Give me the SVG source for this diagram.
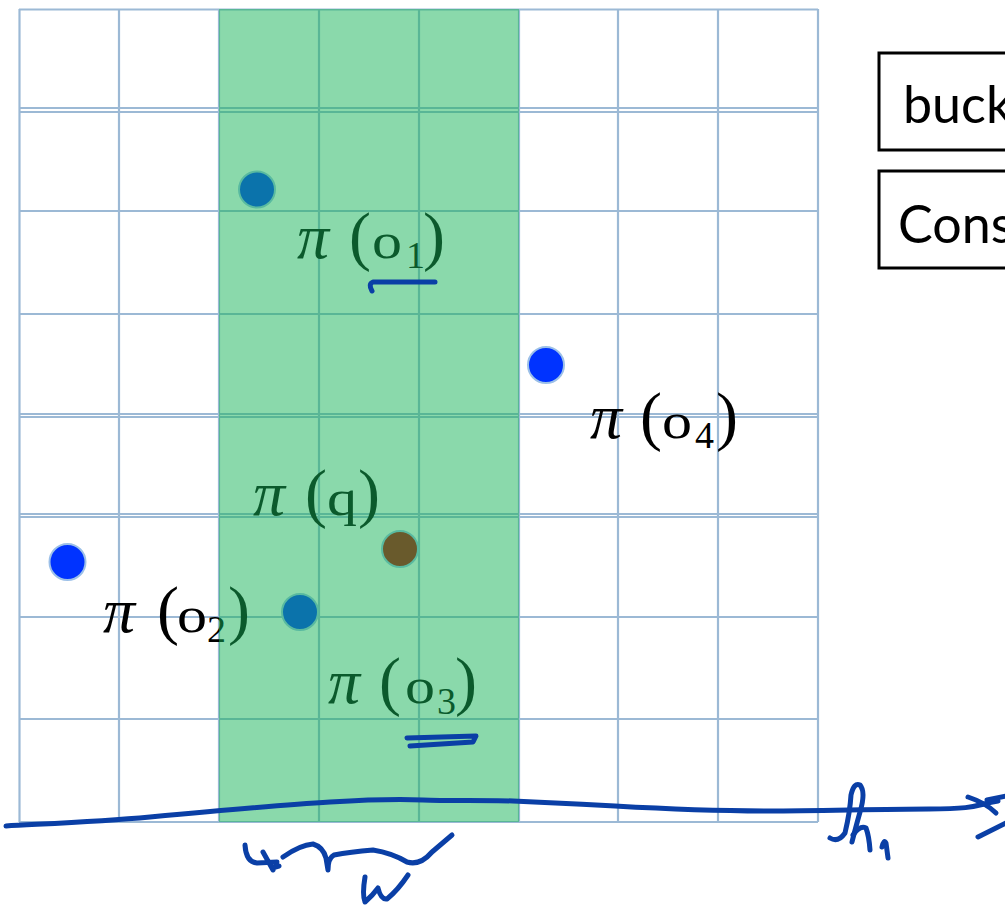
<svg xmlns="http://www.w3.org/2000/svg" width="1005" height="907" viewBox="0 0 1005 907">
<defs>
<style>
.grid line{stroke:#9cb9d5;stroke-width:2.2}
.dot{stroke:#9cc0e8;stroke-width:2}
.lbl{font-family:"Liberation Serif","Times New Roman",serif;fill:#000}
.pi{font-style:italic;font-size:64px}
.par{font-size:66px}
.var{font-size:50px}
.sub{font-size:38px}
.box rect{fill:#fff;stroke:#000;stroke-width:3}
.box text{font-family:Lato,"Noto Sans",sans-serif;font-size:52px;fill:#000}
.ink{fill:none;stroke:#0a3fa6;stroke-width:5;stroke-linecap:round;stroke-linejoin:round}
</style>
</defs>
<rect width="1005" height="907" fill="#fff"/>
<g id="grid" class="grid">
<line x1="19.5" y1="9" x2="19.5" y2="822"/>
<line x1="119" y1="9" x2="119" y2="822"/>
<line x1="219" y1="9" x2="219" y2="822"/>
<line x1="319" y1="9" x2="319" y2="822"/>
<line x1="419" y1="9" x2="419" y2="822"/>
<line x1="519" y1="9" x2="519" y2="822"/>
<line x1="618" y1="9" x2="618" y2="822"/>
<line x1="718" y1="9" x2="718" y2="822"/>
<line x1="818" y1="9" x2="818" y2="822"/>
<line x1="19" y1="9.5" x2="818" y2="9.5"/>
<line x1="19" y1="108" x2="818" y2="108"/>
<line x1="19" y1="112" x2="818" y2="112"/>
<line x1="19" y1="211" x2="818" y2="211"/>
<line x1="19" y1="314" x2="818" y2="314"/>
<line x1="19" y1="414" x2="818" y2="414"/>
<line x1="19" y1="417" x2="818" y2="417"/>
<line x1="19" y1="514" x2="818" y2="514"/>
<line x1="19" y1="517" x2="818" y2="517"/>
<line x1="19" y1="617" x2="818" y2="617"/>
<line x1="19" y1="719" x2="818" y2="719"/>
<line x1="19" y1="822" x2="818" y2="822"/>
</g>
<g id="dot-o1"><circle class="dot" cx="257" cy="189.5" r="18" fill="#0033ff"/></g>
<g id="dot-o2"><circle class="dot" cx="67.5" cy="562" r="18" fill="#0033ff"/></g>
<g id="dot-o3"><circle class="dot" cx="300" cy="612" r="18" fill="#0033ff"/></g>
<g id="dot-o4"><circle class="dot" cx="546" cy="365" r="18" fill="#0033ff"/></g>
<g id="dot-q"><circle class="dot" cx="400" cy="549" r="18" fill="#bd0000"/></g>
<g id="label-o1" class="lbl">
<text class="pi" x="297" y="258">π</text>
<text class="par" x="349" y="258">(</text>
<text class="var" x="372" y="258" textLength="30" lengthAdjust="spacingAndGlyphs">o</text>
<text class="sub" x="406" y="268">1</text>
<text class="par" x="423" y="258">)</text>
</g>
<g id="label-o4" class="lbl">
<text class="pi" x="590" y="438">π</text>
<text class="par" x="640" y="438">(</text>
<text class="var" x="662" y="438" textLength="30" lengthAdjust="spacingAndGlyphs">o</text>
<text class="sub" x="695" y="448">4</text>
<text class="par" x="716" y="438">)</text>
</g>
<g id="label-o2" class="lbl">
<text class="pi" x="103" y="632">π</text>
<text class="par" x="157" y="632">(</text>
<text class="var" x="177" y="632" textLength="30" lengthAdjust="spacingAndGlyphs">o</text>
<text class="sub" x="207" y="642">2</text>
<text class="par" x="228" y="632">)</text>
</g>
<g id="label-q" class="lbl">
<text class="pi" x="253" y="515">π</text>
<text class="par" x="305" y="515">(</text>
<text class="var" x="327" y="515" textLength="30" lengthAdjust="spacingAndGlyphs">q</text>
<text class="par" x="358" y="515">)</text>
</g>
<g id="label-o3" class="lbl">
<text class="pi" x="328" y="703">π</text>
<text class="par" x="379" y="703">(</text>
<text class="var" x="405" y="703" textLength="30" lengthAdjust="spacingAndGlyphs">o</text>
<text class="sub" x="437" y="714">3</text>
<text class="par" x="455" y="703">)</text>
</g>
<g id="band"><rect x="219" y="9" width="300" height="813" fill="#16b458" fill-opacity="0.5"/></g>
<g id="box-bucket" class="box">
<rect x="879" y="53" width="140" height="97"/>
<text x="903" y="123">buck</text>
</g>
<g id="box-cons" class="box">
<rect x="879" y="171" width="140" height="97"/>
<text x="898" y="243">Cons</text>
</g>
<g id="connectors" class="ink">
<path d="M6,826 C40,824 96,822 150,817 S280,805 330,802 S400,799 423,800 S490,800 513,801 S580,804 615,806 S720,811 769,811 S880,809 929,809 S975,805 998,801"/>
<path d="M968,797 Q986,803 996,813"/>
<path d="M987,800 L1006,796"/>
<path d="M978,837 L1006,823"/>
<path d="M830,838 Q838,843 845,833 Q850,812 851,795 Q854,782 860,785 Q866,792 860,812 Q855,830 852,842"/>
<path d="M853,835 Q860,825 866,828 Q869,836 870,850"/>
<path d="M882,847 Q884,839 886,843 L888,858"/>
<path d="M245,845 Q246,862 257,863 L277,862 M263,852 L273,870 M272,868 L279,866"/>
<path d="M283,857 Q300,845 313,844 Q323,847 326,858 L328,870 Q328,858 334,855 Q350,852 373,850 Q392,853 407,862 Q420,866 432,852 L452,835"/>
<path d="M365,877 Q362,895 365,902 Q373,895 378,888 Q381,900 387,899 Q398,890 408,875"/>
<path d="M372,291 Q368,284 373,282 L435,282"/>
<path d="M407,738 L476,736 L473,742 L410,746"/>
</g>
</svg>
